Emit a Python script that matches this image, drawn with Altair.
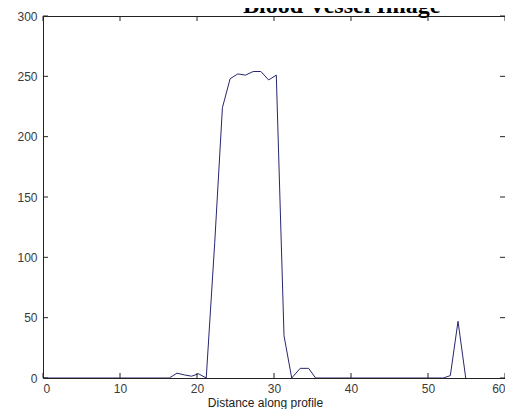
import altair as alt
import pandas as pd

# Profile data
distance = [0, 16.4, 17.4, 18.4, 19.3, 20.2, 21.2, 22.3, 23.3, 24.3, 25.3, 26.3,
            27.3, 28.3, 29.3, 30.3, 31.3, 32.3, 33.4, 34.5, 35.4, 52.0, 52.9,
            53.9, 54.9]
intensity = [0, 0, 4, 2.5, 1.5, 3.5, 0, 112, 224, 248, 252, 251,
             254, 254, 247, 251, 35, 0, 8, 8, 0, 0, 2,
             47, 0]

x_ticks = [0, 10, 20, 30, 40, 50, 60]
y_ticks = [0, 50, 100, 150, 200, 250, 300]
chart_title = ["Blood Vessel Image"]

W, H = 462, 362
TICK = 5
TICK_COLOR = "#222222"
LABEL_COLOR = "#3a3a3a"

df = pd.DataFrame({"d": distance, "v": intensity})
xt = pd.DataFrame({"d": x_ticks})
yt = pd.DataFrame({"v": y_ticks})
tt = pd.DataFrame({"title": chart_title})

xscale = alt.Scale(domain=[0, 60], nice=False, zero=False)
yscale = alt.Scale(domain=[0, 300], nice=False)

xaxis = alt.Axis(values=x_ticks, ticks=False, domain=False, grid=False,
                 labelPadding=5, labelFont="Liberation Sans", labelFontSize=12,
                 labelColor=LABEL_COLOR, title="Distance along profile",
                 titleFont="Liberation Sans", titleFontSize=12,
                 titleFontWeight="normal", titleColor="#222222",
                 titleX=222, titleY=28, titleBaseline="alphabetic",
                 titleAlign="center", titleAnchor="start")
yaxis = alt.Axis(values=y_ticks, ticks=False, domain=False, grid=False,
                 labelPadding=6, labelFont="Liberation Sans", labelFontSize=12,
                 labelColor=LABEL_COLOR, title=None)

X = alt.X("d:Q", scale=xscale, axis=xaxis)
Y = alt.Y("v:Q", scale=yscale, axis=yaxis)

line = alt.Chart(df).mark_line(color="#27276e", strokeWidth=1, clip=True).encode(x=X, y=Y)

bottom_ticks = alt.Chart(xt).mark_rule(color=TICK_COLOR, strokeWidth=1).encode(
    x=X, y=alt.value(H), y2=alt.value(H - TICK))
top_ticks = alt.Chart(xt).mark_rule(color=TICK_COLOR, strokeWidth=1).encode(
    x=X, y=alt.value(0), y2=alt.value(TICK))
left_ticks = alt.Chart(yt).mark_rule(color=TICK_COLOR, strokeWidth=1).encode(
    y=Y, x=alt.value(0), x2=alt.value(TICK))
right_ticks = alt.Chart(yt).mark_rule(color=TICK_COLOR, strokeWidth=1).encode(
    y=Y, x=alt.value(W - TICK), x2=alt.value(W))

title_text = alt.Chart(tt).mark_text(
    font="Liberation Serif", fontSize=24, fontWeight="bold", color="black",
    align="left", baseline="alphabetic").encode(
    text="title:N", x=alt.value(200), y=alt.value(-3))

chart = alt.layer(line, bottom_ticks, top_ticks, left_ticks, right_ticks,
                  title_text).properties(
    width=W, height=H,
    autosize=alt.AutoSizeParams(type="none"),
    padding={"left": 35, "top": 8, "right": 0, "bottom": 31},
    background="white",
).configure_view(stroke=TICK_COLOR, strokeWidth=1)

chart.save("out.html", embed_options={"renderer": "svg", "actions": False})
